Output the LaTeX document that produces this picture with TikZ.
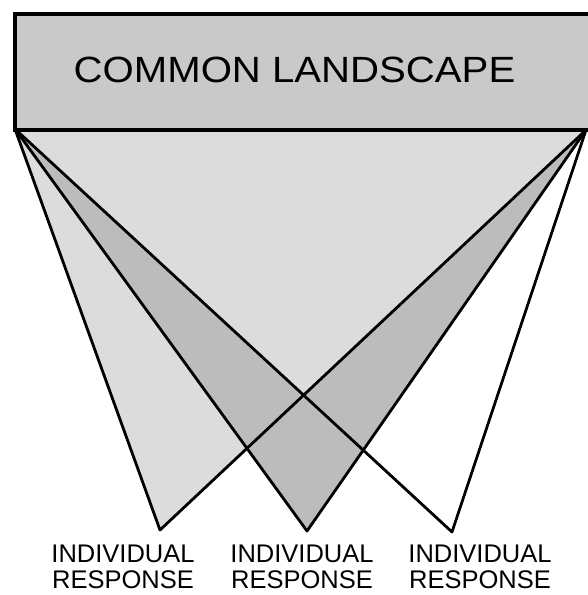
\documentclass[tikz,border=0pt]{standalone}
\usepackage{fontspec}
\setmainfont{Liberation Sans}
\newfontfamily\landfont[FakeStretch=1.1]{Liberation Sans}
\usepackage{xcolor}
\definecolor{bandfill}{RGB}{201,201,201}
\definecolor{lightcone}{RGB}{220,220,220}
\definecolor{midcone}{RGB}{188,188,188}
\usepackage{tikz}
\usetikzlibrary{positioning, calc}

\begin{document}
\begin{tikzpicture}[
  x=1pt, y=-1pt,
  landbox/.style={draw=black, fill=bandfill, line width=4pt,
                  minimum width=578pt, minimum height=116pt,
                  anchor=north west, inner sep=0pt},
  landtext/.style={font=\landfont\fontsize{36.5}{40}\selectfont,
                   anchor=north, inner sep=0pt},
  resptext/.style={font=\fontsize{25.5}{26}\selectfont, align=center,
                   anchor=north, inner sep=0pt},
  ray/.style={draw=black, line width=2.8pt, line join=round},
]
  \useasboundingbox (0,0) rectangle (587,595);

  % Corners of the landscape and the three responses
  \coordinate (tl) at (15,129);
  \coordinate (tr) at (586,130);
  \coordinate (a1) at (160,530);
  \coordinate (a2) at (307,531);
  \coordinate (a3) at (452,532);
  \coordinate (common) at (intersection of tl--a3 and tr--a1);

  % Cones
  \fill[lightcone] (tl) -- (a1) -- (tr) -- cycle;
  \fill[midcone] (tl) -- (a2) -- (tr) -- cycle;
  \fill[lightcone] (tl) -- (common) -- (tr) -- cycle;

  \draw[ray] (tl) -- (a1) -- (tr);
  \draw[ray] (tl) -- (a2) -- (tr);
  \draw[ray] (tl) -- (a3) -- (tr);

  % Landscape band
  \node[landbox] (land) at (13,12) {};
  \node[landtext] (landlabel) at (294.5,57) {COMMON LANDSCAPE};

  % Labels
  \node[resptext] (resp1) at (123,545) {INDIVIDUAL\\RESPONSE};
  \node[resptext] (resp2) at (302,545) {INDIVIDUAL\\RESPONSE};
  \node[resptext] (resp3) at (480,545) {INDIVIDUAL\\RESPONSE};
\end{tikzpicture}
\end{document}
